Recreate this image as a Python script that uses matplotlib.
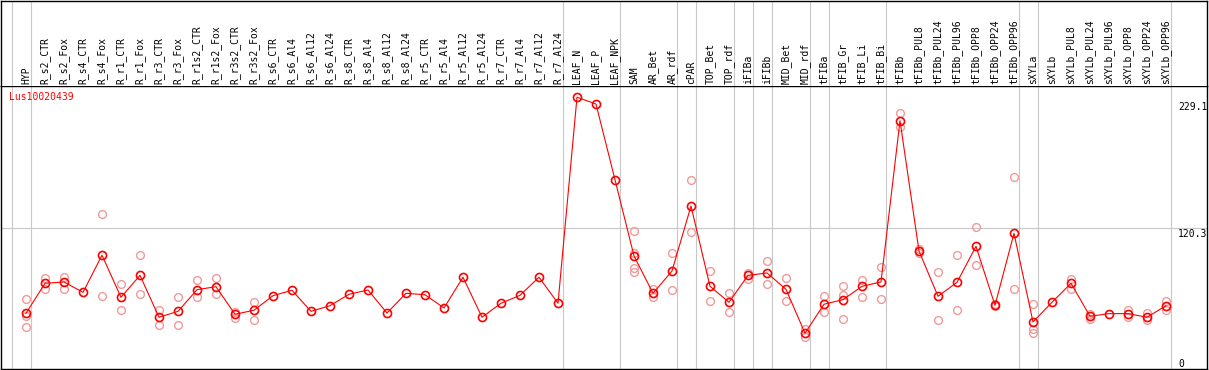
import matplotlib
matplotlib.use('Agg')
import matplotlib.pyplot as plt
import numpy as np

# sample names (one column each)
categories = [
    'HYP', 'R_s2_CTR', 'R_s2_Fox', 'R_s4_CTR', 'R_s4_Fox', 'R_r1_CTR', 'R_r1_Fox',
    'R_r3_CTR', 'R_r3_Fox', 'R_r1s2_CTR', 'R_r1s2_Fox', 'R_r3s2_CTR', 'R_r3s2_Fox',
    'R_s6_CTR', 'R_s6_Al4', 'R_s6_Al12', 'R_s6_Al24', 'R_s8_CTR', 'R_s8_Al4',
    'R_s8_Al12', 'R_s8_Al24', 'R_r5_CTR', 'R_r5_Al4', 'R_r5_Al12', 'R_r5_Al24',
    'R_r7_CTR', 'R_r7_Al4', 'R_r7_Al12', 'R_r7_Al24', 'LEAF_N', 'LEAF_P', 'LEAF_NPK',
    'SAM', 'AR_Bet', 'AR_rdf', 'cPAR', 'TOP_Bet', 'TOP_rdf', 'iFIBa', 'iFIBb',
    'MID_Bet', 'MID_rdf', 'tFIBa', 'tFIB_Gr', 'tFIB_Li', 'tFIB_Bi', 'tFIBb',
    'tFIBb_PUL8', 'tFIBb_PUL24', 'tFIBb_PUL96', 'tFIBb_OPP8', 'tFIBb_OPP24',
    'tFIBb_OPP96', 'sXYLa', 'sXYLb', 'sXYLb_PUL8', 'sXYLb_PUL24', 'sXYLb_PUL96',
    'sXYLb_OPP8', 'sXYLb_OPP24', 'sXYLb_OPP96',
]

# mean expression per sample
means = [
    49.6, 74.5, 75.6, 67.0, 97.8, 62.9, 81.1, 46.3, 51.2, 69.2, 71.7, 48.8, 52.1,
    64.2, 68.7, 51.2, 55.9, 65.4, 68.9, 49.8, 66.2, 65.0, 54.0, 79.5, 46.3,
    57.9, 64.5, 79.5, 57.9, 229.1, 223.4, 160.5,
    97.2, 66.2, 84.7, 138.7, 72.0, 58.7, 81.1, 83.1, 69.5, 33.0, 57.1, 60.9, 72.0, 75.6,
    209.6, 101.3, 63.7, 75.3, 105.2, 56.2, 116.0,
    42.4, 58.7, 74.5, 47.1, 49.3, 49.3, 46.3, 55.9,
]

# individual replicates (faint circles)
replicates = [
    [61.2, 47.6, 38.0], [78.9, 70.0], [79.5, 70.0], [], [131.8, 63.7], [73.7, 52.1],
    [97.8, 65.4], [52.3, 40.1], [62.9, 40.1], [77.2, 62.9], [78.7, 65.9], [50.9, 45.9],
    [58.7, 44.3],
    [], [], [], [], [], [], [], [], [], [], [], [], [], [], [], [],
    [], [], [],
    [117.7, 99.4, 87.0, 84.1], [69.5, 62.9], [99.4, 68.9], [160.3, 116.9],
    [84.7, 59.8], [66.2, 50.7], [82.8, 78.3], [93.0, 73.9], [78.7, 59.6], [36.3, 29.7],
    [63.7, 50.9], [72.0, 65.0, 44.6], [77.2, 62.9], [87.8, 61.2],
    [215.7, 204.3], [102.7, 99.4], [83.6, 43.8], [97.8, 52.3], [121.0, 89.5],
    [57.1, 55.6], [163.0, 69.5],
    [57.1, 36.8, 33.0], [], [78.3, 70.0], [49.3, 44.6], [], [52.3, 46.5],
    [50.1, 43.8], [60.0, 52.3],
]

# last sample index of each group (separator drawn just after it)
group_ends = [-1, 0, 28, 31, 34, 35, 37, 38, 39, 41, 42, 45, 52, 53, 60]
gene_id = 'Lus10020439'
tick_values = [0, 120.3, 229.1]

W, H = 1209, 370
fig = plt.figure(figsize=(W / 100, H / 100), dpi=100)
ax = fig.add_axes([1 / W, 1 / H, 1206 / W, 283 / H])
hdr = fig.add_axes([1 / W, 284 / H, 1206 / W, 85.5 / H])

x = np.arange(len(categories))
xlim = (-25 / 19, 1181 / 19)
mono = 'DejaVu Sans Mono'
grey = '#c8c8c8'

for a in (ax, hdr):
    a.set_xlim(*xlim)
    a.set_xticks([])
    a.set_yticks([])
    for s in a.spines.values():
        s.set_color('black')
        s.set_linewidth(1.0)
    for e in group_ends:
        a.axvline(e + 0.237, color=grey, lw=0.8, zorder=0)
hdr.spines['bottom'].set_visible(False)

ax.set_ylim(3.3, 238.4)
hdr.set_ylim(0, 85.5)

ax.axhline(120.3, color=grey, lw=0.8, zorder=0)

# replicates
rx = [i for i, r in enumerate(replicates) for _ in r]
ry = [v for r in replicates for v in r]
ax.plot(rx, ry, ls='none', marker='o', ms=5.6, mfc='none', mec='#f09a9a', mew=1.0, zorder=2)

# means
ax.plot(x, means, color='red', lw=0.8, marker='o', ms=5.8, mfc='none', mec='red', mew=1.2, zorder=3)

# column labels
for i, c in enumerate(categories):
    hdr.text(i, 2.5, c, rotation=90, ha='center', va='bottom', fontsize=7, family=mono)

ax.text(0.0069, 0.961, gene_id, transform=ax.transAxes, color='red', fontsize=7,
        family=mono, ha='left', va='center')

# value labels on the right
offsets = {0: 10.0, 120.3: -0.4, 229.1: -3.5}
for v in tick_values:
    ax.annotate(f'{v:g}', xy=(60.63, v), xytext=(0, offsets[v]), textcoords='offset points',
                ha='left', va='top', fontsize=7, family=mono, annotation_clip=False)

fig.savefig('out.png', dpi=100)
